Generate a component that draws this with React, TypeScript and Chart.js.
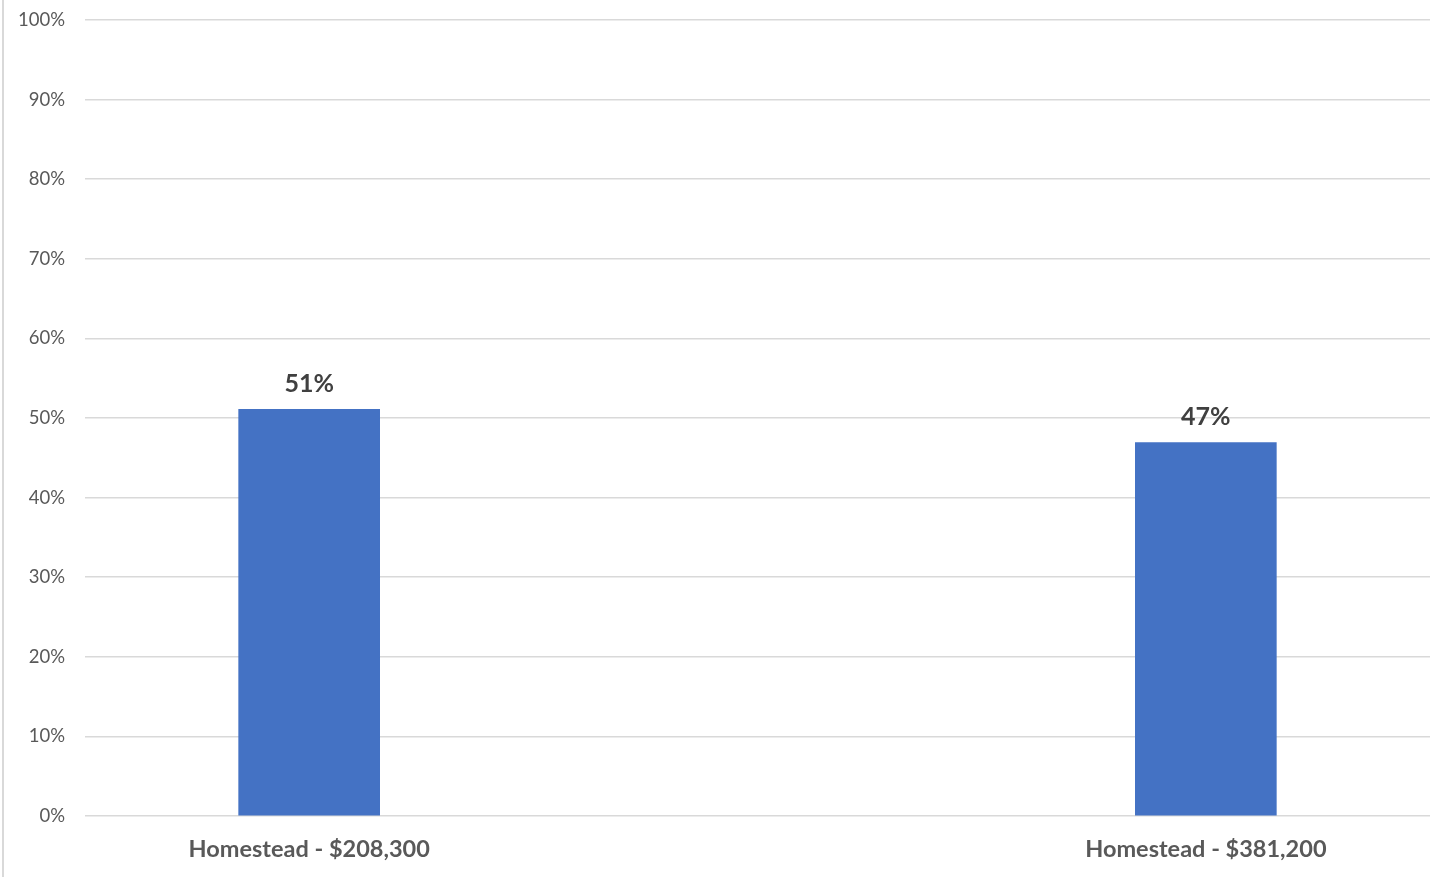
import React, { useEffect, useRef } from "react";
import { Chart, registerables } from "chart.js";

Chart.register(...registerables);

const categories: string[] = ["Homestead - $208,300", "Homestead - $381,200"];
const values: number[] = [51.1, 46.9];
const valueLabels: string[] = ["51%", "47%"];
const yTicks: number[] = [0, 10, 20, 30, 40, 50, 60, 70, 80, 90, 100];

const FONT = "Lato, 'Open Sans', 'DejaVu Sans', sans-serif";

const dataLabelPlugin = {
  id: "dataLabels",
  afterDatasetsDraw(chart: any) {
    const ctx = chart.ctx;
    const meta = chart.getDatasetMeta(0);
    ctx.save();
    ctx.font = `bold 25px ${FONT}`;
    ctx.fillStyle = "#404040";
    ctx.textAlign = "center";
    ctx.textBaseline = "bottom";
    meta.data.forEach((bar: any, i: number) => {
      ctx.fillText(valueLabels[i], bar.x, bar.y - 13);
    });
    ctx.restore();
  },
};

export default function App() {
  const ref = useRef<HTMLCanvasElement | null>(null);
  useEffect(() => {
    if (!ref.current) return;
    const chart = new Chart(ref.current, {
      type: "bar",
      data: {
        datasets: [
          {
            data: values.map((v, i) => ({ x: i, y: v })),
            backgroundColor: "#4472C4",
            barThickness: 141,
          },
        ],
      },
      options: {
        animation: false,
        responsive: true,
        maintainAspectRatio: false,
        layout: { padding: { left: 0, right: 7, top: 20, bottom: 0 } },
        plugins: { legend: { display: false }, tooltip: { enabled: false } },
        scales: {
          x: {
            type: "linear",
            min: -0.25,
            max: 1.25,
            offset: false,
            bounds: "data",
            afterBuildTicks: (scale: any) => {
              scale.ticks = categories.map((_, i) => ({ value: i }));
            },
            afterFit: (scale: any) => {
              scale.height = 61;
              scale.paddingLeft = 0;
              scale.paddingRight = 0;
            },
            grid: { display: false, drawTicks: false },
            border: { display: false },
            ticks: {
              autoSkip: false,
              maxRotation: 0,
              padding: 19,
              color: "#595959",
              font: { family: FONT, size: 23.5, weight: "bold" },
              callback: (v: any) => categories[Number(v)] ?? "",
            },
          },
          y: {
            min: 0,
            max: 100,
            afterBuildTicks: (scale: any) => {
              scale.ticks = yTicks.map((v) => ({ value: v }));
            },
            afterFit: (scale: any) => {
              scale.width = 85;
              scale.paddingTop = 0;
              scale.paddingBottom = 0;
            },
            grid: { color: "#d9d9d9", lineWidth: 1.5, drawTicks: false },
            border: { display: false },
            ticks: {
              padding: 20,
              color: "#595959",
              font: { family: FONT, size: 18.5 },
              callback: (v: any) => `${v}%`,
            },
          },
        },
      },
      plugins: [dataLabelPlugin],
    });
    return () => chart.destroy();
  }, []);

  return (
    <div
      style={{
        position: "absolute",
        left: 0,
        top: 0,
        width: 1437,
        height: 877,
        background: "#fff",
      }}
    >
      <div
        style={{
          position: "absolute",
          left: 2,
          top: 0,
          width: 2,
          height: 877,
          background: "#d9d9d9",
        }}
      />
      <div style={{ position: "absolute", left: 0, top: 0, width: 1437, height: 877 }}>
        <canvas ref={ref} />
      </div>
    </div>
  );
}
